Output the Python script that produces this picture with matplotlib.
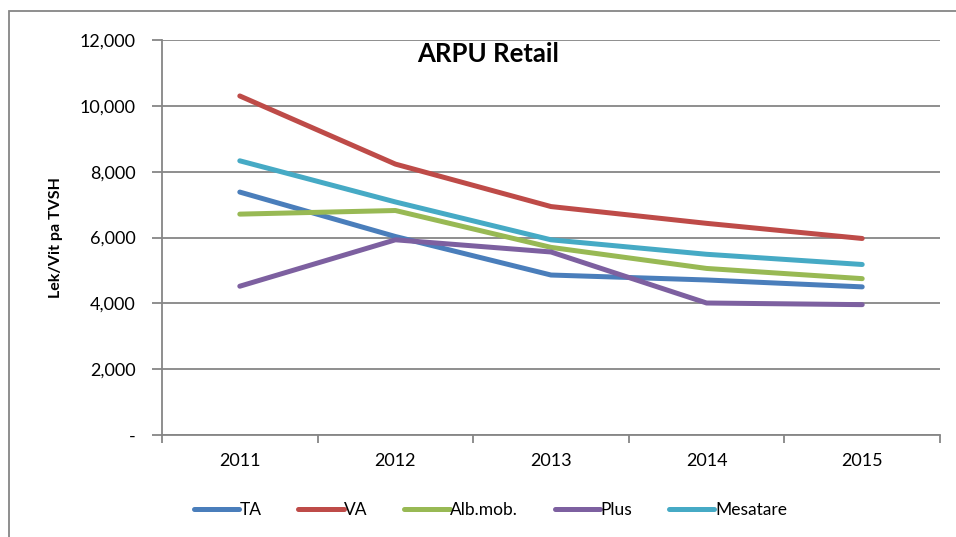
import matplotlib
matplotlib.use("Agg")
import matplotlib.pyplot as plt
from matplotlib.patches import Rectangle
from matplotlib.ticker import FuncFormatter

plt.rcParams["font.family"] = ["Lato", "DejaVu Sans"]

# ---- data ----
years = ["2011", "2012", "2013", "2014", "2015"]
ta = [7380, 6030, 4860, 4710, 4500]
va = [10300, 8230, 6940, 6430, 5970]
alb_mob = [6710, 6820, 5700, 5060, 4750]
plus = [4520, 5930, 5560, 4010, 3960]
mesatare = [8330, 7080, 5930, 5490, 5180]

series = [
    ("TA", ta, "#4A7EBB"),
    ("VA", va, "#BE4B48"),
    ("Alb.mob.", alb_mob, "#98B954"),
    ("Plus", plus, "#7D60A0"),
    ("Mesatare", mesatare, "#46AAC5"),
]

GRID = "#868686"

fig = plt.figure(figsize=(9.56, 5.37), dpi=100)
ax = fig.add_axes([162 / 956, 1 - 435 / 537, (940 - 162) / 956, (435 - 40) / 537])

xs = list(range(len(years)))
for name, vals, col in series:
    ax.plot(xs, vals, color=col, lw=3.6, solid_capstyle="round",
            solid_joinstyle="round", label=name)

ax.set_xlim(-0.5, len(years) - 0.5)
ax.set_ylim(0, 12000)
ax.set_yticks(range(0, 12001, 2000))
ax.yaxis.set_major_formatter(FuncFormatter(lambda v, p: "-" if v == 0 else f"{int(v):,}"))
ax.grid(axis="y", color=GRID, lw=1.3)
ax.set_axisbelow(True)

# category labels centred, tick marks on the boundaries
ax.set_xticks([i - 0.5 for i in range(len(years) + 1)])
ax.set_xticklabels([])
ax.set_xticks(xs, minor=True)
ax.set_xticklabels(years, minor=True)
ax.tick_params(axis="x", which="major", length=6, width=1.3, color=GRID, direction="out")
ax.tick_params(axis="x", which="minor", length=0, pad=13, labelsize=13)
ax.tick_params(axis="y", length=7, width=1.3, color=GRID, pad=12, labelsize=13)

for s in ("top", "right"):
    ax.spines[s].set_visible(False)
for s in ("left", "bottom"):
    ax.spines[s].set_color(GRID)
    ax.spines[s].set_linewidth(1.3)

ax.set_ylabel("Lek/Vit pa TVSH", fontsize=11.5, fontweight="bold", labelpad=12)
ax.text(0.419, 0.995, "ARPU Retail", transform=ax.transAxes, ha="center", va="top",
        fontsize=18.5, fontweight="bold")

fig.legend(loc="center", bbox_to_anchor=(0.513, 1 - 510 / 537), ncol=5, frameon=False,
           fontsize=12.5, handlelength=2.6, handletextpad=0.05, columnspacing=2.1)

# chart border (cropped on the right and bottom in the reference)
fig.patches.append(Rectangle((9 / 956, -0.1), 1.2, 0.1 + 1 - 11 / 537,
                             transform=fig.transFigure, fill=False,
                             edgecolor=GRID, lw=1.3))

fig.savefig("out.png", dpi=100)
